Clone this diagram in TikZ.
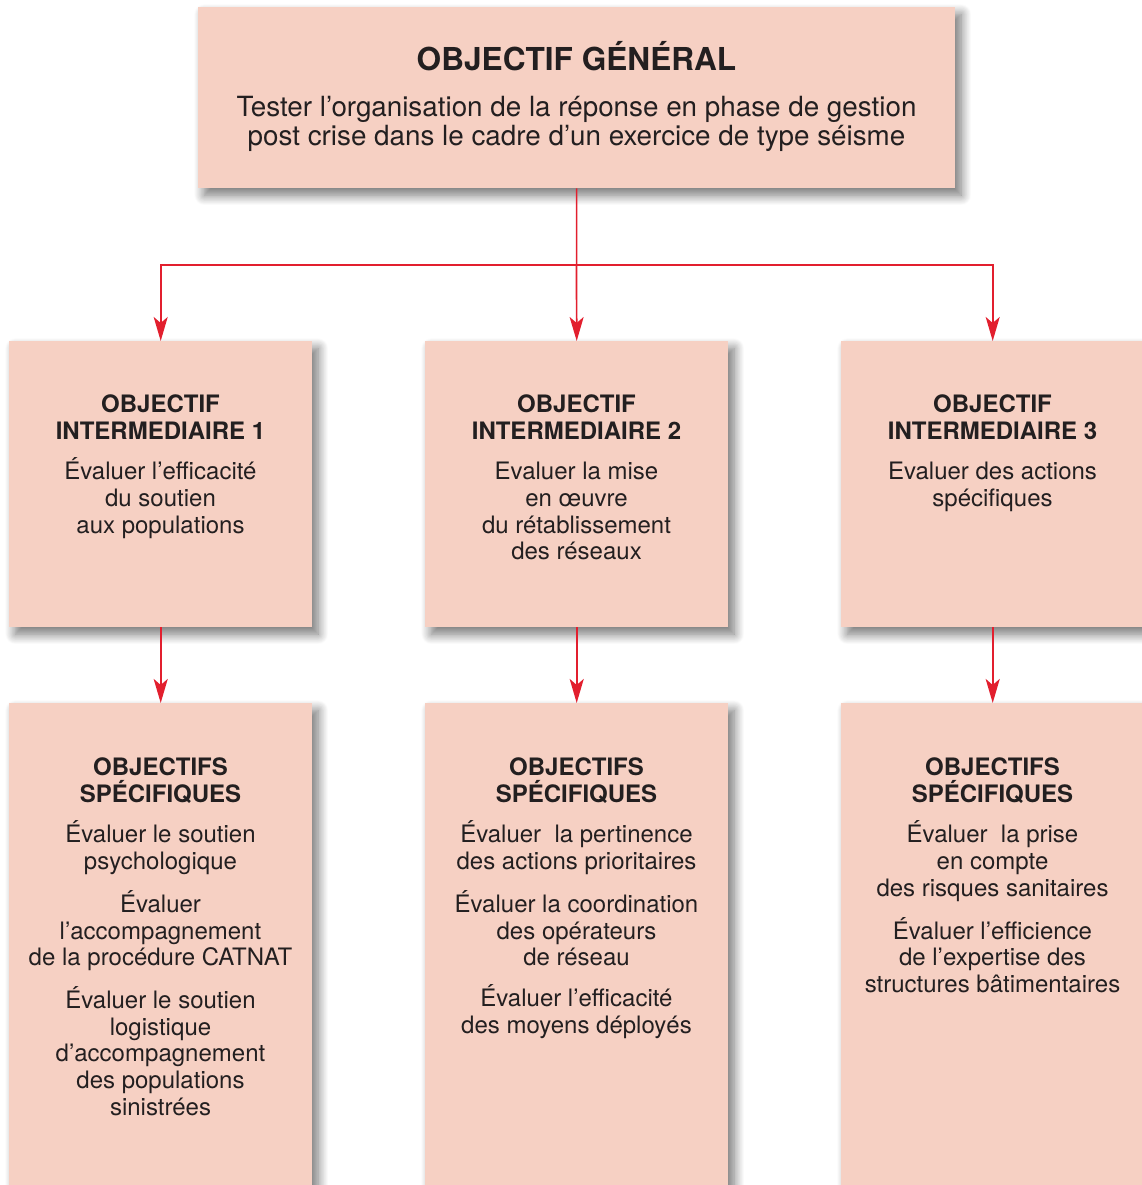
\documentclass[tikz,border=0pt]{standalone}
\usepackage{fontspec}
\setmainfont{TeX Gyre Heros}
\usetikzlibrary{arrows.meta,shadows.blur}
\definecolor{boxfill}{HTML}{F6D0C3}
\definecolor{arrred}{HTML}{E21F2E}
\definecolor{txt}{HTML}{231F20}
\begin{document}
\begin{tikzpicture}[x=1pt,y=-1pt,
  box/.style={rectangle, fill=boxfill, inner sep=0pt, anchor=north west,
    blur shadow={shadow xshift=6pt, shadow yshift=-7pt, shadow blur radius=10pt, shadow blur steps=12, shadow opacity=55}},
  boxtext/.style={anchor=north, align=center, inner sep=0pt, text=txt,
    font=\fontsize{24}{26.7}\selectfont},
  conn/.style={draw=arrred, line width=2.4pt, -{Stealth[length=24pt,width=14pt,inset=6pt]}}]
\useasboundingbox (0,0) rectangle (1142,1185);
\clip (0,0) rectangle (1142,1185);

% boxes
\node[box, minimum width=757pt, minimum height=181pt] (top) at (198,7) {};
\node[box, minimum width=303pt, minimum height=286pt] (mid1) at (9,341) {};
\node[box, minimum width=303pt, minimum height=286pt] (mid2) at (425,341) {};
\node[box, minimum width=303pt, minimum height=286pt] (mid3) at (841,341) {};
\node[box, minimum width=303pt, minimum height=500pt] (bot1) at (9,703) {};
\node[box, minimum width=303pt, minimum height=500pt] (bot2) at (425,703) {};
\node[box, minimum width=303pt, minimum height=500pt] (bot3) at (841,703) {};

% top texts
\node[anchor=base, inner sep=0pt, text=txt, font=\fontsize{31.6}{34}\selectfont\bfseries] (toptitle) at (576.5,71) {OBJECTIF GÉNÉRAL};
\node[anchor=north, align=center, inner sep=0pt, text=txt, font=\fontsize{27.8}{29}\selectfont] (topbody) at (576.5,96.5)
  {Tester l’organisation de la réponse en phase de gestion\\post crise dans le cadre d’un exercice de type séisme};

% middle texts
\node[boxtext] (t1) at (160.5,394.5) {\textbf{OBJECTIF}\\\textbf{INTERMEDIAIRE 1}\\[14pt]Évaluer l’efficacité\\du soutien\\aux populations};
\node[boxtext] (t2) at (576.5,394.5) {\textbf{OBJECTIF}\\\textbf{INTERMEDIAIRE 2}\\[14pt]Evaluer la mise\\en œuvre\\du rétablissement\\des réseaux};
\node[boxtext] (t3) at (992.5,394.5) {\textbf{OBJECTIF}\\\textbf{INTERMEDIAIRE 3}\\[14pt]Evaluer des actions\\spécifiques};

% bottom texts
\node[boxtext] (s1) at (160.5,757.5) {\textbf{OBJECTIFS}\\\textbf{SPÉCIFIQUES}\\[14pt]Évaluer le soutien\\psychologique\\[14.5pt]Évaluer\\l’accompagnement\\de la procédure CATNAT\\[14.5pt]Évaluer le soutien\\logistique\\d’accompagnement\\des populations\\sinistrées};
\node[boxtext] (s2) at (576.5,757.5) {\textbf{OBJECTIFS}\\\textbf{SPÉCIFIQUES}\\[14pt]Évaluer\ \ la pertinence\\des actions prioritaires\\[14.5pt]Évaluer la coordination\\des opérateurs\\de réseau\\[14.5pt]Évaluer l’efficacité\\des moyens déployés};
\node[boxtext] (s3) at (992.5,757.5) {\textbf{OBJECTIFS}\\\textbf{SPÉCIFIQUES}\\[14pt]Évaluer\ \ la prise\\en compte\\des risques sanitaires\\[14.5pt]Évaluer l’efficience\\de l’expertise des\\structures bâtimentaires};

% connectors
\coordinate (bus) at (576.5,265);
\draw[draw=arrred, line width=1.5pt] (top.south) -- (bus);
\draw[conn, line width=1.7pt] (bus) -- (mid2.north);
\draw[conn, line width=1.6pt] (bus) -| (mid1.north);
\draw[conn, line width=1.6pt] (bus) -| (mid3.north);
\draw[conn] (mid1.south) -- (bot1.north);
\draw[conn] (mid2.south) -- (bot2.north);
\draw[conn] (mid3.south) -- (bot3.north);
\end{tikzpicture}
\end{document}
